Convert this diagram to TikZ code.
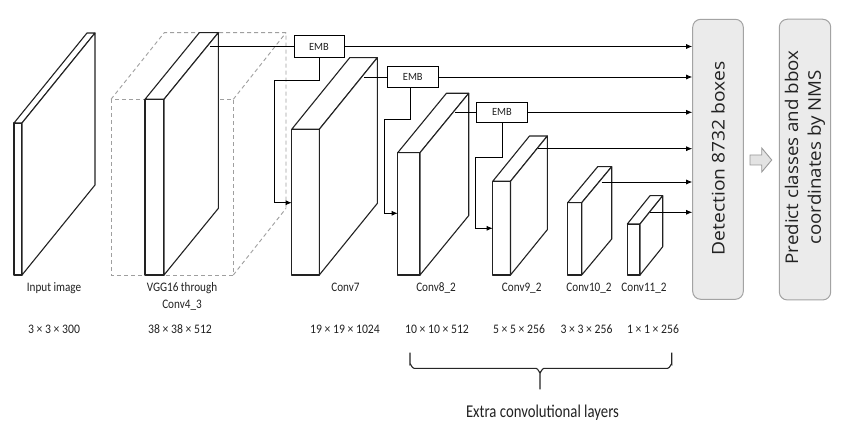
\documentclass[tikz,border=0pt]{standalone}
\usepackage{fontspec}
\setmainfont{Carlito}
\newfontfamily\boxfont{Open Sans}
\usetikzlibrary{arrows.meta,calc}
\definecolor{slabcol}{HTML}{222222}
\definecolor{boxfill}{HTML}{EBEBEB}
\definecolor{boxline}{HTML}{A3A3A3}
\definecolor{txtcol}{HTML}{222222}
\tikzset{
  slabline/.style={draw=slabcol, fill=white, line width=1.1pt, line join=round},
  dashbox/.style={draw=gray!75, dash pattern=on 4pt off 3pt, line width=0.9pt},
  conn/.style={draw=black, line width=0.8pt},
  arr/.style={conn, -{Latex[length=6pt,width=5pt]}},
  emb/.style={draw=black, line width=0.8pt, fill=white, inner sep=0pt, font=\fontsize{11}{13}\selectfont, text=txtcol},
  lbl/.style={anchor=base, inner sep=0pt, text=txtcol, font=\fontsize{13}{15}\selectfont},
  biglbl/.style={anchor=base, inner sep=0pt, text=txtcol, font=\fontsize{18}{20}\selectfont},
  panel/.style={draw=boxline, fill=boxfill, line width=1pt, rounded corners=8pt, inner sep=0pt},
  paneltext/.style={rotate=90, inner sep=0pt, text=txtcol, align=center, font=\boxfont\fontsize{17.5}{22.7}\selectfont},
}
\newcommand\slabdraw[5]{%
  \draw[slabline] (#1,#3) rectangle (#2,275);
  \draw[slabline] (#1,#3) -- ({#1+#4},{#3+#5}) -- ({#2+#4},{#3+#5}) -- (#2,#3) -- cycle;
  \draw[slabline] (#2,#3) -- ({#2+#4},{#3+#5}) -- ({#2+#4},{275+#5}) -- (#2,275) -- cycle;}
\begin{document}
\begin{tikzpicture}[x=1pt,y=-1pt]
\useasboundingbox (0,0) rectangle (850,443);
\fill[white] (0,0) rectangle (850,443);

% dashed cube
\draw[dashbox] (111,99.3) rectangle (233.3,275);
\draw[dashbox] (111,99.3) -- (164.3,32.7) -- (286,32.7) -- (286,208.4);
\draw[dashbox] (233.3,99.3) -- (286,32.7);
\draw[dashbox] (233.3,275) -- (286,208.4);

% slabs
\slabdraw{14}{22}{123}{73}{-90}
\slabdraw{145}{164}{99.3}{54.3}{-66.6}
\slabdraw{291.7}{319.3}{129.3}{58}{-71.6}
\slabdraw{397.7}{420}{152.7}{48.7}{-59.4}
\slabdraw{492.7}{510.5}{181.3}{36.8}{-45.3}
\slabdraw{567.7}{581.7}{202.7}{30}{-36}
\slabdraw{627.3}{640}{224}{22.7}{-28.3}

% panels
\node[panel, minimum width=50.6pt, minimum height=280pt] (det) at (718,159.3) {};
\node[paneltext] (dettext) at (718,158.5) {\scalebox{1.1}[1]{Detection 8732 boxes}};
\node[panel, minimum width=51.4pt, minimum height=280.7pt] (pred) at (805,159.6) {};
\node[paneltext] (predtext) at (805,157.5) {\scalebox{1.07}[1]{Predict classes and bbox}\\\scalebox{1.07}[1]{coordinates by NMS}};
\draw[draw=gray!80, fill=gray!22, line width=0.9pt, line join=miter]
  (750,155) -- (761.7,155) -- (761.7,148) -- (771.7,160) -- (761.7,172) -- (761.7,165) -- (750,165) -- cycle;

% EMB boxes
\node[emb, minimum width=50pt, minimum height=21.5pt] (emb1) at (319,46.5) {\scalebox{0.95}[1]{EMB}};
\node[emb, minimum width=51pt, minimum height=20.6pt] (emb2) at (412.8,77) {\scalebox{0.95}[1]{EMB}};
\node[emb, minimum width=50.3pt, minimum height=20pt] (emb3) at (502,112.3) {\scalebox{0.95}[1]{EMB}};

% connector coordinates
\coordinate (vggout) at (210,46.5);
\coordinate (f1a) at (274.3,80);
\coordinate (c7in) at (291.7,202.7);
\coordinate (c7out) at (364.3,77);
\coordinate (f2a) at (384.3,119.3);
\coordinate (c8in) at (397.7,213.3);
\coordinate (c8out) at (455,112.3);
\coordinate (f3a) at (475.7,157.3);
\coordinate (c9in) at (492.7,228.3);
\coordinate (c9out) at (538.3,148.7);
\coordinate (c10out) at (601.7,182);
\coordinate (c11out) at (650,212.3);
\coordinate (e2s) at (410,87.3);

\draw[conn] (vggout) -- (emb1.west);
\draw[arr] (emb1.east) -- (emb1.east -| det.west);
\draw[arr] (emb1.south) |- (f1a) |- (c7in);

\draw[conn] (c7out) -- (emb2.west);
\draw[arr] (emb2.east) -- (emb2.east -| det.west);
\draw[arr] (e2s) |- (f2a) |- (c8in);

\draw[conn] (c8out) -- (emb3.west);
\draw[arr] (emb3.east) -- (emb3.east -| det.west);
\draw[arr] (emb3.south) |- (f3a) |- (c9in);

\draw[arr] (c9out) -- (c9out -| det.west);
\draw[arr] (c10out) -- (c10out -| det.west);
\draw[arr] (c11out) -- (c11out -| det.west);

% labels
\node[lbl] (l1) at (54,291.5) {\scalebox{0.86}[1]{Input image}};
\node[lbl] (l2) at (182,291.5) {\scalebox{0.86}[1]{VGG16 through}};
\node[lbl] (l2b) at (182,308) {\scalebox{0.86}[1]{Conv4\_3}};
\node[lbl] (l3) at (345.5,291.5) {\scalebox{0.86}[1]{Conv7}};
\node[lbl] (l4) at (436,291.5) {\scalebox{0.86}[1]{Conv8\_2}};
\node[lbl] (l5) at (521.7,291.5) {\scalebox{0.86}[1]{Conv9\_2}};
\node[lbl] (l6) at (589,291.5) {\scalebox{0.86}[1]{Conv10\_2}};
\node[lbl] (l7) at (644,291.5) {\scalebox{0.86}[1]{Conv11\_2}};

\node[lbl] (d1) at (54,333) {\scalebox{0.9}[1]{3 × 3 × 300}};
\node[lbl] (d2) at (180,333) {\scalebox{0.9}[1]{38 × 38 × 512}};
\node[lbl] (d3) at (345,333) {\scalebox{0.9}[1]{19 × 19 × 1024}};
\node[lbl] (d4) at (437,333) {\scalebox{0.9}[1]{10 × 10 × 512}};
\node[lbl] (d5) at (519,333) {\scalebox{0.9}[1]{5 × 5 × 256}};
\node[lbl] (d6) at (586.5,333) {\scalebox{0.9}[1]{3 × 3 × 256}};
\node[lbl] (d7) at (653,333) {\scalebox{0.9}[1]{1 × 1 × 256}};

% brace
\draw[draw=gray!30!black, line width=1.1pt]
  (410,352.7) -- (410,364.3) to[out=90,in=180] (414,368.3) -- (536,368.3)
  to[out=0,in=-90] (540,372.3) -- (540,389.3);
\draw[draw=gray!30!black, line width=1.1pt]
  (540,372.3) to[out=-90,in=180] (544,368.3) -- (667.7,368.3)
  to[out=0,in=90] (671.7,364.3) -- (671.7,352.7);
\node[biglbl] (extra) at (542.5,417) {\scalebox{0.82}[1]{Extra convolutional layers}};
\end{tikzpicture}
\end{document}
